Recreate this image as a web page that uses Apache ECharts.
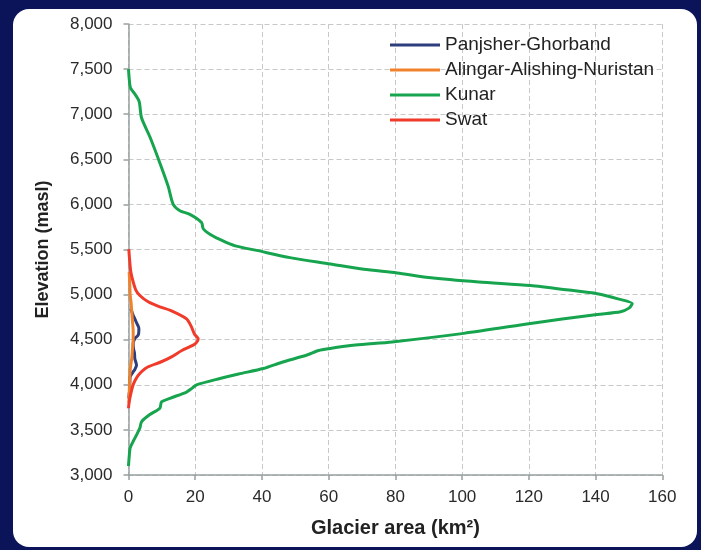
<!DOCTYPE html>
<html>
<head>
<meta charset="utf-8">
<script src="https://cdn.jsdelivr.net/npm/echarts@6/dist/echarts.min.js"></script>
<style>
html,body{margin:0;padding:0;background:#0b1458;}
#chart{width:701px;height:550px;}
</style>
</head>
<body>
<div id="chart"></div>
<script>
// ---- data ----
var seriesNames = ["Panjsher-Ghorband", "Alingar-Alishing-Nuristan", "Kunar", "Swat"];
var seriesColors = ["#2e3d7c", "#f0822d", "#17a44e", "#f03b2b"];

var panjsherElev = [4843, 4780, 4732, 4680, 4629, 4600, 4550, 4512, 4456, 4400, 4350, 4290, 4217, 4170, 4144, 4090, 4000, 3960, 3900, 3850];
var panjsherArea = [0.7, 1.3, 1.9, 2.5, 3.1, 3.1, 2.9, 1.9, 1.4, 1.5, 1.8, 1.9, 2.4, 1.9, 1.4, 0.5, 0.4, 0.4, 0.2, 0.1];

var alingarElev = [5250, 5100, 5000, 4900, 4800, 4700, 4600, 4500, 4400, 4300, 4200, 4100, 4000, 3900, 3800];
var alingarArea = [0.2, 0.4, 0.5, 0.8, 1.0, 1.2, 1.4, 1.4, 1.2, 1.0, 0.6, 0.4, 0.3, 0.2, 0.1];

var kunarElev = [7500, 7400, 7290, 7230, 7140, 6960, 6750, 6460, 6200, 6000, 5930, 5890, 5800, 5730, 5670, 5600, 5540, 5490, 5410, 5340, 5280, 5240, 5190, 5140, 5100, 5050, 5010, 4950, 4900, 4850, 4810, 4780, 4730, 4680, 4570, 4475, 4440, 4400, 4380, 4330, 4250, 4180, 4120, 4070, 4000, 3960, 3920, 3850, 3810, 3740, 3670, 3590, 3520, 3450, 3380, 3300, 3200, 3100];
var kunarArea = [0, 0.2, 0.6, 1.8, 3.2, 3.9, 6.4, 9.4, 11.9, 13.4, 15.4, 18.4, 21.9, 22.4, 24.4, 28, 32, 38.4, 48.4, 60.5, 70.5, 80.5, 90, 105, 120.5, 132, 140.5, 147, 151, 150, 147.5, 140.5, 130, 120.5, 100.5, 79, 68, 60, 57, 53.5, 46, 40.4, 33, 27.4, 20.4, 19, 17.4, 12.4, 9.9, 9.4, 6.4, 3.9, 3.4, 2.5, 1.5, 0.5, 0.2, 0];

var swatElev = [5505, 5400, 5250, 5140, 5050, 4990, 4920, 4870, 4820, 4730, 4640, 4560, 4510, 4470, 4440, 4380, 4310, 4250, 4200, 4150, 4105, 4050, 4000, 3920, 3850, 3780, 3740];
var swatArea = [0.1, 0.3, 0.7, 1.4, 2.2, 3.4, 5.9, 9, 12.9, 17.4, 18.9, 19.8, 20.9, 20.4, 19.4, 16, 12.9, 9.5, 5.9, 4, 2.9, 2, 1.4, 0.8, 0.4, 0.1, 0];

var xTicks = [0, 20, 40, 60, 80, 100, 120, 140, 160];
var yTicks = [3000, 3500, 4000, 4500, 5000, 5500, 6000, 6500, 7000, 7500, 8000];

// ---- build ----
function pairs(area, elev) {
  var out = [];
  for (var i = 0; i < area.length; i++) out.push([area[i], elev[i]]);
  return out;
}
var allData = [
  pairs(panjsherArea, panjsherElev),
  pairs(alingarArea, alingarElev),
  pairs(kunarArea, kunarElev),
  pairs(swatArea, swatElev)
];

var FONT = "'Liberation Sans', Arial, sans-serif";
var chart = echarts.init(document.getElementById('chart'), null, {renderer: 'canvas'});

var series = seriesNames.map(function (name, i) {
  return {
    name: name,
    type: 'line',
    data: allData[i],
    showSymbol: false,
    symbol: 'none',
    smooth: 0.25,
    lineStyle: {color: seriesColors[i], width: 3},
    itemStyle: {color: seriesColors[i]},
    z: 3 + i
  };
});

chart.setOption({
  backgroundColor: '#0b1458',
  animation: false,
  graphic: [{
    type: 'rect',
    z: -10,
    shape: {x: 13, y: 9, width: 684, height: 538, r: 16},
    style: {fill: '#ffffff'}
  }],
  grid: {left: 128.5, right: 38.7, top: 24, bottom: 75, containLabel: false},
  legend: {
    orient: 'vertical',
    left: 390,
    top: 35,
    padding: 0,
    icon: 'rect',
    itemWidth: 50,
    itemHeight: 3,
    itemGap: 5,
    textStyle: {fontFamily: FONT, fontSize: 19, color: '#222', lineHeight: 20},
    data: seriesNames
  },
  xAxis: {
    type: 'value',
    min: xTicks[0],
    max: xTicks[xTicks.length - 1],
    interval: xTicks[1] - xTicks[0],
    name: 'Glacier area (km\u00B2)',
    nameLocation: 'middle',
    nameGap: 43,
    nameTextStyle: {fontFamily: FONT, fontSize: 20, fontWeight: 'bold', color: '#222'},
    axisLine: {show: true, lineStyle: {color: '#98a0a0', width: 1.5}},
    axisTick: {show: true, length: 5, lineStyle: {color: '#98a0a0', width: 1.5}},
    axisLabel: {fontFamily: FONT, fontSize: 17, color: '#2a2a2a', margin: 14},
    splitLine: {show: true, lineStyle: {color: '#c8c8c8', type: [5, 3], width: 1}}
  },
  yAxis: {
    type: 'value',
    min: yTicks[0],
    max: yTicks[yTicks.length - 1],
    interval: yTicks[1] - yTicks[0],
    name: 'Elevation (masl)',
    nameLocation: 'middle',
    nameRotate: 90,
    nameGap: 76,
    nameTextStyle: {fontFamily: FONT, fontSize: 18, fontWeight: 'bold', color: '#222'},
    axisLine: {show: true, lineStyle: {color: '#98a0a0', width: 1.5}},
    axisTick: {show: true, length: 5, lineStyle: {color: '#98a0a0', width: 1.5}},
    axisLabel: {
      fontFamily: FONT, fontSize: 17, color: '#2a2a2a', margin: 16,
      formatter: function (v) { return v.toLocaleString('en-US'); }
    },
    splitLine: {show: true, lineStyle: {color: '#c8c8c8', type: [5, 3], width: 1}}
  },
  series: series
});
</script>
</body>
</html>
